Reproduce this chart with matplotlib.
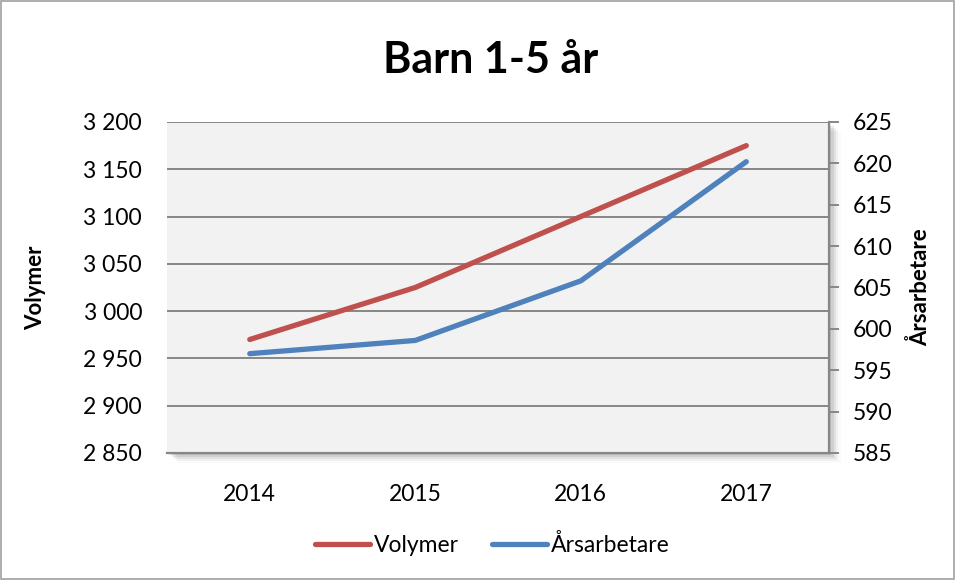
import matplotlib.pyplot as plt
from matplotlib.patches import Rectangle
from matplotlib.ticker import FuncFormatter

plt.rcParams['font.family'] = ['Lato', 'DejaVu Sans']

years = ["2014", "2015", "2016", "2017"]
volymer = [2970, 3025, 3100, 3175]
arsarbetare = [597.0, 598.6, 605.8, 620.2]

red = "#C0504D"
blue = "#4F81BD"
grid_col = "#878787"

fig = plt.figure(figsize=(9.56, 5.8), dpi=100)
fig.patches.append(Rectangle((0.001, 0.002), 0.997, 0.996, transform=fig.transFigure,
                             fill=False, edgecolor="#A0A0A0", linewidth=1.2))

ax = fig.add_axes([0.1747, 0.219, 0.6925, 0.5707])
ax.set_facecolor("#F2F2F2")

# drop shadow of the plot area
for i, a in enumerate([0.10, 0.08, 0.06, 0.04, 0.02]):
    off = (i + 1) * 0.0012
    fig.patches.append(Rectangle((0.1747 + off * 2, 0.219 - off * 3), 0.6925, 0.5707,
                                 transform=fig.transFigure, facecolor="black",
                                 alpha=a, edgecolor="none", zorder=-5))

x = range(len(years))
ax.plot(x, volymer, color=red, linewidth=3.8, solid_capstyle="round", label="Volymer", zorder=3)
ax.set_xlim(-0.5, 3.5)
ax.set_ylim(2850, 3200)
ax.set_yticks(range(2850, 3201, 50))
ax.yaxis.set_major_formatter(FuncFormatter(lambda v, p: f"{int(v):,}".replace(",", " ")))
ax.set_xticks(list(x))
ax.set_xticklabels(years)
ax.grid(axis="y", color=grid_col, linewidth=1.4)
ax.set_axisbelow(True)
ax.tick_params(axis="y", length=0, pad=18, labelsize=16.5)
ax.tick_params(axis="x", length=0, pad=22, labelsize=16.5)
for s in ["left", "top", "right"]:
    ax.spines[s].set_visible(False)
ax.spines["bottom"].set_color(grid_col)
ax.spines["bottom"].set_linewidth(1.6)
ax.set_ylabel("Volymer", fontsize=16, fontweight="bold", labelpad=27)

ax2 = ax.twinx()
ax2.plot(x, arsarbetare, color=blue, linewidth=3.8, solid_capstyle="round", label="Årsarbetare", zorder=3)
ax2.set_ylim(585, 625)
ax2.set_yticks(range(585, 626, 5))
ax2.tick_params(axis="y", length=7, width=1.4, color=grid_col, pad=10, labelsize=16.5)
for s in ["left", "top", "bottom"]:
    ax2.spines[s].set_visible(False)
ax2.spines["right"].set_color(grid_col)
ax2.spines["right"].set_linewidth(1.6)
ax2.set_ylabel("Årsarbetare", fontsize=16, fontweight="bold", labelpad=12)

fig.text(0.513, 0.897, "Barn 1-5 år", fontsize=31, fontweight="bold", ha="center", va="center")

h1, l1 = ax.get_legend_handles_labels()
h2, l2 = ax2.get_legend_handles_labels()
fig.legend(h1 + h2, l1 + l2, loc="center", bbox_to_anchor=(0.515, 0.06), ncol=2,
           frameon=False, fontsize=16.5, handlelength=2.4, handletextpad=0.2, columnspacing=1.4)

fig.savefig("out.png", dpi=100)
